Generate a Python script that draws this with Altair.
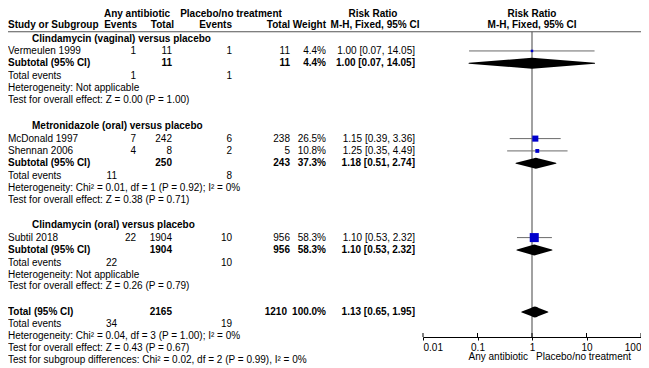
import altair as alt
import pandas as pd

# ---------------- data ----------------
group_titles = ["Clindamycin (vaginal) versus placebo",
                "Metronidazole (oral) versus placebo",
                "Clindamycin (oral) versus placebo"]

study_names = ["Vermeulen 1999", "McDonald 1997", "Shennan 2006", "Subtil 2018"]
study_group = [0, 1, 1, 2]
ab_events = [1, 7, 4, 22]
ab_total = [11, 242, 8, 1904]
pl_events = [1, 6, 2, 10]
pl_total = [11, 238, 5, 956]
study_weight = [4.4, 26.5, 10.8, 58.3]
study_rr = [1.00, 1.15, 1.25, 1.10]
study_lo = [0.07, 0.39, 0.35, 0.53]
study_hi = [14.05, 3.36, 4.49, 2.32]

sub_ab_total = [11, 250, 1904]
sub_pl_total = [11, 243, 956]
sub_weight = [4.4, 37.3, 58.3]
sub_rr = [1.00, 1.18, 1.10]
sub_lo = [0.07, 0.51, 0.53]
sub_hi = [14.05, 2.74, 2.32]
sub_ab_events = [1, 11, 22]
sub_pl_events = [1, 8, 10]
sub_het = ["Heterogeneity: Not applicable",
           "Heterogeneity: Chi\u00b2 = 0.01, df = 1 (P = 0.92); I\u00b2 = 0%",
           "Heterogeneity: Not applicable"]
sub_test = ["Test for overall effect: Z = 0.00 (P = 1.00)",
            "Test for overall effect: Z = 0.38 (P = 0.71)",
            "Test for overall effect: Z = 0.26 (P = 0.79)"]

tot_ab_total = 2165
tot_pl_total = 1210
tot_weight = 100.0
tot_rr, tot_lo, tot_hi = 1.13, 0.65, 1.95
tot_ab_events = 34
tot_pl_events = 19
tot_het = "Heterogeneity: Chi\u00b2 = 0.04, df = 3 (P = 1.00); I\u00b2 = 0%"
tot_test = "Test for overall effect: Z = 0.43 (P = 0.67)"
subgroup_test = "Test for subgroup differences: Chi\u00b2 = 0.02, df = 2 (P = 0.99), I\u00b2 = 0%"

axis_ticks = [0.01, 0.1, 1, 10, 100]
favours = ["Any antibiotic", "Placebo/no treatment"]

# ---------------- layout ----------------
FONT = "Liberation Sans"
FS = 10
W, H = 633, 360
DX = 8
X_LABEL, X_GROUP = 8, 32
X_AB_EV, X_AB_TOT, X_AB_TE = 136, 172, 117
X_PL_EV, X_PL_TOT = 232, 290
X_WT, X_RR = 326, 415
DIAMOND_H = 11


def Y(ref):
    """reference-picture row position -> chart pixel position"""
    return 6 + (ref - 8) * 0.985


cells = []


def cell(text, xref, yref, align, bold):
    cells.append({"text": str(text), "x": max(xref - DX, 0), "y": Y(yref),
                  "align": align, "bold": bold})


def fmt_rr(r, lo, hi):
    return f"{r:.2f} [{lo:.2f}, {hi:.2f}]"


# headers
for t, xr in [("Any antibiotic", 137), ("Placebo/no treatment", 231),
              ("Risk Ratio", 373), ("Risk Ratio", 532)]:
    cell(t, xr, 8, "center", True)
cell("Study or Subgroup", X_LABEL, 19, "left", True)
cell("Events", X_AB_EV + 1, 19, "right", True)
cell("Total", X_AB_TOT + 2, 19, "right", True)
cell("Events", X_PL_EV, 19, "right", True)
cell("Total", X_PL_TOT, 19, "right", True)
cell("Weight", X_WT, 19, "right", True)
cell("M-H, Fixed, 95% CI", 375, 19, "center", True)
cell("M-H, Fixed, 95% CI", 532, 19, "center", True)

study_rows = []
diamonds = []


def add_diamond(i, r, lo, hi, yref):
    yc = Y(yref)
    for o, (xv, w) in enumerate([(lo, 0), (r, DIAMOND_H), (hi, 0)]):
        diamonds.append({"id": i, "ord": o, "x": xv, "y": yc, "w": w})


cur = 33.0
for g in range(3):
    cell(group_titles[g], X_GROUP, cur, "left", True)
    cur += 12.5
    for s in range(len(study_names)):
        if study_group[s] != g:
            continue
        cell(study_names[s], X_LABEL, cur, "left", False)
        cell(ab_events[s], X_AB_EV, cur, "right", False)
        cell(ab_total[s], X_AB_TOT, cur, "right", False)
        cell(pl_events[s], X_PL_EV, cur, "right", False)
        cell(pl_total[s], X_PL_TOT, cur, "right", False)
        cell(f"{study_weight[s]:.1f}%", X_WT, cur, "right", False)
        cell(fmt_rr(study_rr[s], study_lo[s], study_hi[s]), X_RR, cur, "right", False)
        study_rows.append({"y": Y(cur), "rr": study_rr[s], "lo": study_lo[s],
                           "hi": study_hi[s], "weight": study_weight[s]})
        cur += 12.5
    cell("Subtotal (95% CI)", X_LABEL, cur, "left", True)
    cell(sub_ab_total[g], X_AB_TOT, cur, "right", True)
    cell(sub_pl_total[g], X_PL_TOT, cur, "right", True)
    cell(f"{sub_weight[g]:.1f}%", X_WT, cur, "right", True)
    cell(fmt_rr(sub_rr[g], sub_lo[g], sub_hi[g]), X_RR, cur, "right", True)
    add_diamond(g, sub_rr[g], sub_lo[g], sub_hi[g], cur)
    cur += 13
    cell("Total events", X_LABEL, cur, "left", False)
    cell(sub_ab_events[g], X_AB_TE if sub_ab_events[g] >= 10 else X_AB_EV, cur, "right", False)
    cell(sub_pl_events[g], X_PL_EV, cur, "right", False)
    cur += 12
    cell(sub_het[g], X_LABEL, cur, "left", False)
    cur += 12
    cell(sub_test[g], X_LABEL, cur, "left", False)
    cur += 27 if g == 0 else 26

cell("Total (95% CI)", X_LABEL, cur, "left", True)
cell(tot_ab_total, X_AB_TOT, cur, "right", True)
cell(tot_pl_total, X_PL_TOT - 3, cur, "right", True)
cell(f"{tot_weight:.1f}%", X_WT, cur, "right", True)
cell(fmt_rr(tot_rr, tot_lo, tot_hi), X_RR, cur, "right", True)
add_diamond(3, tot_rr, tot_lo, tot_hi, cur)
cur += 12.5
cell("Total events", X_LABEL, cur, "left", False)
cell(tot_ab_events, X_AB_TE, cur, "right", False)
cell(tot_pl_events, X_PL_EV, cur, "right", False)
cur += 12
cell(tot_het, X_LABEL, cur, "left", False)
cur += 12
cell(tot_test, X_LABEL, cur, "left", False)
cur += 12
cell(subgroup_test, X_LABEL, cur, "left", False)

cells_df = pd.DataFrame(cells)
studies_df = pd.DataFrame(study_rows)
diamond_df = pd.DataFrame(diamonds)

# ---------------- text part ----------------
text_layers = []
for align in ["left", "right", "center"]:
    for bold in [False, True]:
        sub = cells_df[(cells_df["align"] == align) & (cells_df["bold"] == bold)]
        if len(sub) == 0:
            continue
        text_layers.append(
            alt.Chart(sub).mark_text(align=align, baseline="middle", font=FONT,
                                     fontSize=FS, fontWeight="bold" if bold else "normal",
                                     color="black")
            .encode(x=alt.X("x:Q", scale=None, axis=None),
                    y=alt.Y("y:Q", scale=None, axis=None),
                    text="text:N")
        )

header_line = alt.Chart(pd.DataFrame({"a": [0]})).mark_rule(
    color="#555555", strokeWidth=1.2).encode(
    x=alt.value(0), x2=alt.value(W), y=alt.value(Y(26)))

text_part = alt.layer(header_line, *text_layers)

# ---------------- forest part ----------------
LINE_TOP = Y(26)
AXIS_Y = 337 - 8
FAV_Y = 357 - 8
xscale = alt.Scale(type="log", domain=[0.01, 100], range=[423 - DX, 641 - DX], nice=False)
yscale = alt.Scale(domain=[0, H], range=[0, H], nice=False, zero=False)
xaxis = alt.Axis(values=axis_ticks, format="~g", labelFlush=True, offset=AXIS_Y - H,
                 tickSize=3, domainColor="black", tickColor="black", labelColor="black",
                 labelFont=FONT, labelFontSize=FS, labelPadding=2, grid=False,
                 title=None, domainWidth=1, tickWidth=1)

vline = alt.Chart(pd.DataFrame({"v": [1.0], "y0": [LINE_TOP], "y1": [AXIS_Y]})).mark_rule(
    color="#8a8a8a", strokeWidth=1.6).encode(
    x=alt.X("v:Q", scale=xscale, axis=xaxis),
    y=alt.Y("y0:Q", scale=yscale, axis=None), y2="y1:Q")

# upper half of the axis ticks (the axis draws the lower half)
tick_up = alt.Chart(pd.DataFrame({"t": axis_ticks, "y0": [AXIS_Y - 4] * len(axis_ticks),
                                  "y1": [AXIS_Y] * len(axis_ticks)})).mark_rule(
    color="black", strokeWidth=1).encode(
    x=alt.X("t:Q", scale=xscale, axis=xaxis),
    y=alt.Y("y0:Q", scale=yscale, axis=None), y2="y1:Q")

ci = alt.Chart(studies_df).mark_rule(color="#6a6a6a", strokeWidth=1).encode(
    x=alt.X("lo:Q", scale=xscale, axis=xaxis), x2="hi:Q",
    y=alt.Y("y:Q", scale=yscale, axis=None))

squares = alt.Chart(studies_df).mark_point(
    shape="square", filled=True, opacity=1, color="#0000cc").encode(
    x=alt.X("rr:Q", scale=xscale, axis=xaxis),
    y=alt.Y("y:Q", scale=yscale, axis=None),
    size=alt.Size("weight:Q", scale=alt.Scale(domain=[0, 100], range=[0, 140]), legend=None))

dia = alt.Chart(diamond_df).mark_trail(color="black", opacity=1).encode(
    x=alt.X("x:Q", scale=xscale, axis=xaxis),
    y=alt.Y("y:Q", scale=yscale, axis=None),
    size=alt.Size("w:Q", scale=None, legend=None),
    detail="id:N",
    order="ord:Q")

fav_df = pd.DataFrame({"v": [1.0], "y": [FAV_Y]})
fav_left = alt.Chart(fav_df).mark_text(align="right", baseline="middle", dx=-4,
                                       font=FONT, fontSize=FS, color="black").encode(
    x=alt.X("v:Q", scale=xscale, axis=xaxis), y=alt.Y("y:Q", scale=yscale, axis=None),
    text=alt.value(favours[0]))
fav_right = alt.Chart(fav_df).mark_text(align="left", baseline="middle", dx=4,
                                        font=FONT, fontSize=FS, color="black").encode(
    x=alt.X("v:Q", scale=xscale, axis=xaxis), y=alt.Y("y:Q", scale=yscale, axis=None),
    text=alt.value(favours[1]))

forest_part = alt.layer(vline, tick_up, ci, squares, dia, fav_left, fav_right)

chart = alt.layer(forest_part, text_part).resolve_scale(
    x="independent", y="independent").properties(
    width=W, height=H, padding=0,
    autosize=alt.AutoSizeParams(type="none")).configure_view(stroke=None)

chart.save("out.html", embed_options={"renderer": "svg", "actions": False})
